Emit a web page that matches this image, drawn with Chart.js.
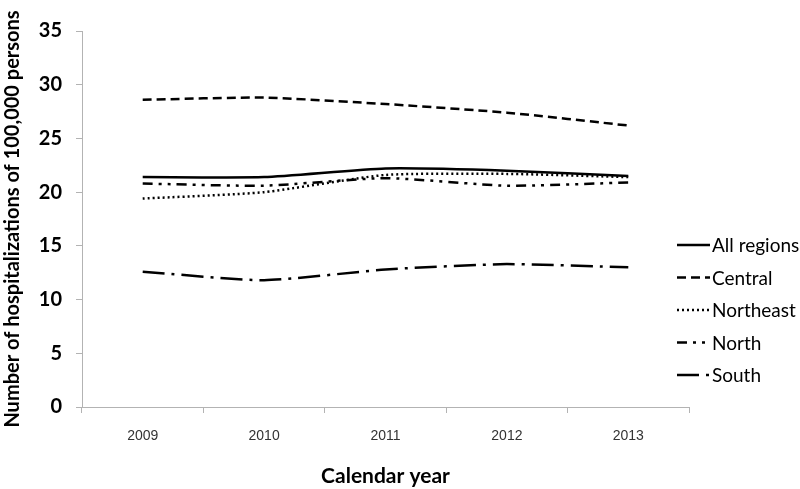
<!DOCTYPE html>
<html>
<head>
<meta charset="utf-8">
<script src="https://cdn.jsdelivr.net/npm/chart.js@4/dist/chart.umd.min.js"></script>
<style>
  html, body { margin: 0; padding: 0; background: #fff; }
  #wrap { width: 800px; height: 489px; }
</style>
</head>
<body>
<div id="wrap"><canvas id="myChart" width="800" height="489"></canvas></div>
<script>
const years = ['2009', '2010', '2011', '2012', '2013'];
const allRegions = [21.4, 21.4, 22.2, 22.0, 21.5];
const central = [28.6, 28.8, 28.2, 27.4, 26.2];
const northeast = [19.4, 20.0, 21.6, 21.7, 21.4];
const north = [20.8, 20.6, 21.3, 20.6, 20.9];
const south = [12.6, 11.8, 12.8, 13.3, 13.0];
const yTicks = [0, 5, 10, 15, 20, 25, 30, 35];

const axisGray = '#b3b3b3';

function series(label, data, dash) {
  return {
    label: label,
    data: data,
    borderColor: '#000',
    borderWidth: 2.5,
    borderDash: dash,
    pointRadius: 0,
    tension: 0.2,
    fill: false
  };
}

// legend drawn by hand so it can sit low on the right like the original
const sideLegend = {
  id: 'sideLegend',
  afterDraw(chart) {
    const ctx = chart.ctx;
    ctx.save();
    ctx.font = '19px Lato';
    ctx.textBaseline = 'middle';
    ctx.fillStyle = '#000';
    chart.data.datasets.forEach((ds, i) => {
      const y = 245 + i * 32.5;
      ctx.beginPath();
      ctx.setLineDash(ds.borderDash || []);
      ctx.lineWidth = 2.5;
      ctx.strokeStyle = '#000';
      ctx.moveTo(677, y);
      ctx.lineTo(710, y);
      ctx.stroke();
      ctx.setLineDash([]);
      ctx.fillText(ds.label, 712, y + 1);
    });
    ctx.restore();
  }
};

var ctx = document.getElementById('myChart').getContext('2d');
var myChart = new Chart(ctx, {
  type: 'line',
  data: {
    labels: years,
    datasets: [
      series('All regions', allRegions, []),
      series('Central', central, [9, 5]),
      series('Northeast', northeast, [2, 3]),
      series('North', north, [10, 6, 3, 6, 3, 6]),
      series('South', south, [22, 7, 3, 7])
    ]
  },
  options: {
    responsive: false,
    animation: false,
    layout: { padding: { top: 31, right: 111, bottom: 0, left: 0 } },
    plugins: {
      legend: { display: false },
      tooltip: { enabled: false }
    },
    scales: {
      x: {
        offset: true,
        grid: { display: true, drawOnChartArea: false, offset: true, tickLength: 6, color: axisGray },
        border: { color: axisGray, width: 1 },
        ticks: { color: '#333', font: { family: 'Liberation Sans', size: 14 }, padding: 15 },
        title: {
          display: true,
          text: 'Calendar year',
          color: '#000',
          font: { family: 'Lato', size: 21, weight: 'bold' },
          padding: { top: 0, bottom: 0 }
        },
        afterFit(scale) { scale.height = 82; }
      },
      y: {
        min: 0,
        max: 35,
        afterBuildTicks(scale) { scale.ticks = yTicks.map(v => ({ value: v })); },
        grid: { display: true, drawOnChartArea: false, tickLength: 6, color: axisGray },
        border: { color: axisGray, width: 1 },
        ticks: { color: '#000', font: { family: 'Lato', size: 20, weight: 'bold' }, padding: 14 },
        title: {
          display: true,
          text: 'Number of hospitalizations of 100,000 persons',
          color: '#000',
          font: { family: 'Lato', size: 20, weight: 'bold' },
          padding: { top: 1, bottom: 0 }
        },
        afterFit(scale) { scale.width = 82; }
      }
    }
  },
  plugins: [sideLegend]
});
</script>
</body>
</html>
